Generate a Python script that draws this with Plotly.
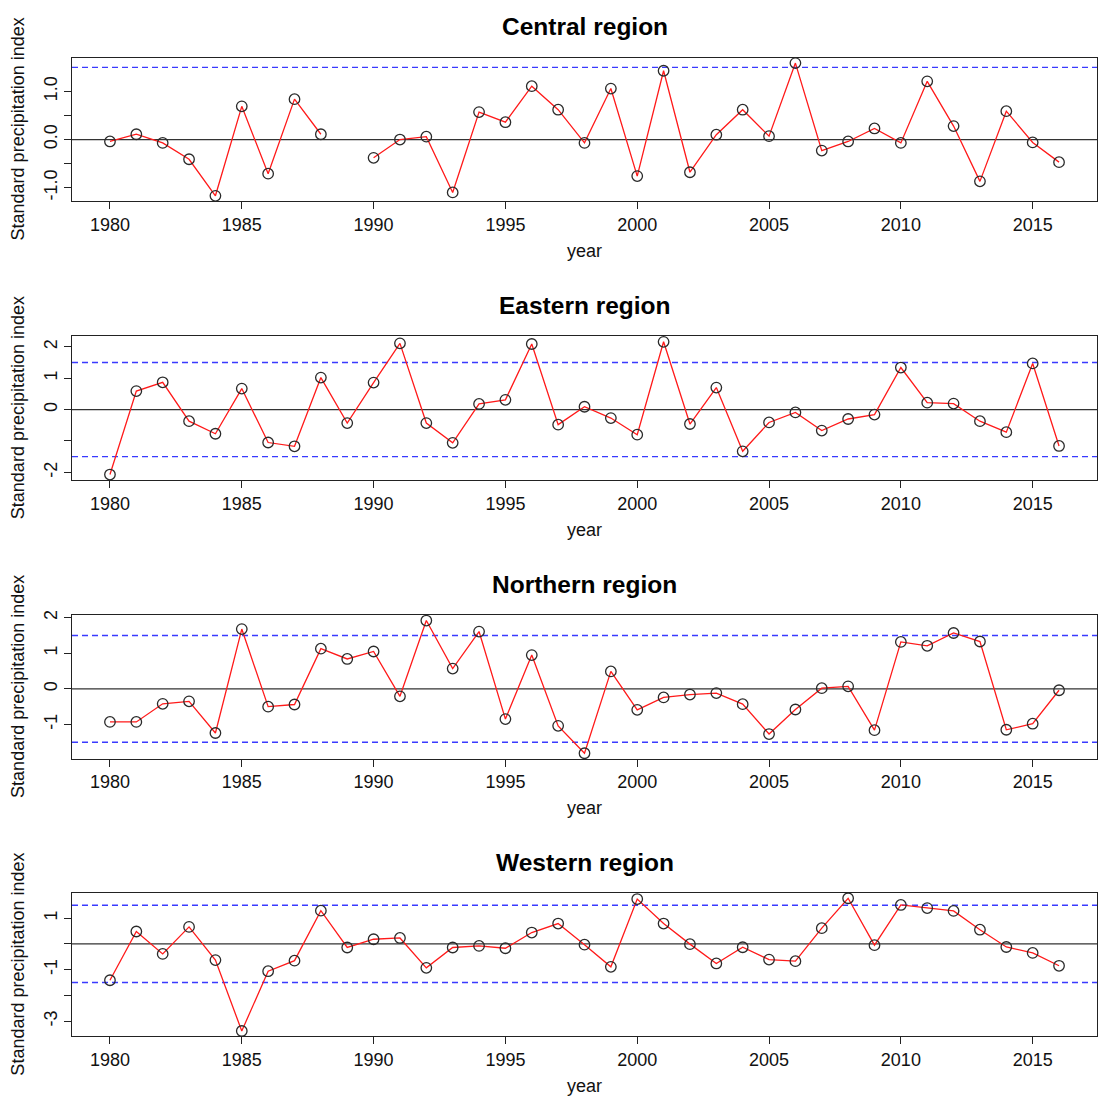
import plotly.graph_objects as go

years = list(range(1980, 2017))

central = [-0.04, 0.11, -0.07, -0.41, -1.17, 0.69, -0.71, 0.84, 0.11, None,
           -0.38, 0.00, 0.06, -1.10, 0.57, 0.36, 1.11, 0.62, -0.07, 1.06,
           -0.76, 1.43, -0.68, 0.10, 0.62, 0.07, 1.59, -0.23, -0.04, 0.23,
           -0.07, 1.21, 0.28, -0.87, 0.59, -0.06, -0.47]
eastern = [-2.07, 0.59, 0.87, -0.37, -0.77, 0.67, -1.05, -1.17, 1.02, -0.43,
           0.86, 2.11, -0.43, -1.06, 0.18, 0.31, 2.09, -0.48, 0.09, -0.27,
           -0.80, 2.16, -0.46, 0.70, -1.33, -0.41, -0.09, -0.67, -0.30, -0.16,
           1.34, 0.22, 0.19, -0.37, -0.72, 1.47, -1.16]
northern = [-0.93, -0.93, -0.42, -0.35, -1.24, 1.68, -0.50, -0.44, 1.13, 0.84,
            1.05, -0.21, 1.92, 0.57, 1.61, -0.85, 0.95, -1.04, -1.81, 0.49,
            -0.59, -0.24, -0.16, -0.12, -0.43, -1.27, -0.58, 0.02, 0.07, -1.16,
            1.32, 1.21, 1.57, 1.33, -1.15, -0.98, -0.04]
western = [-1.41, 0.48, -0.39, 0.66, -0.63, -3.38, -1.06, -0.65, 1.29, -0.14,
           0.18, 0.23, -0.93, -0.14, -0.08, -0.17, 0.44, 0.79, -0.03, -0.89,
           1.74, 0.79, -0.01, -0.76, -0.13, -0.61, -0.67, 0.61, 1.77, -0.05,
           1.51, 1.39, 1.28, 0.55, -0.12, -0.35, -0.85]

titles = ["Central region", "Eastern region", "Northern region", "Western region"]
series = [central, eastern, northern, western]
ytickvals = [[-1, -0.5, 0, 0.5, 1], [-2, -1, 0, 1, 2], [-1, 0, 1, 2], [-3, -2, -1, 0, 1]]
yticktext = [["-1.0", "", "0.0", "", "1.0"], ["-2", "", "0", "1", "2"],
             ["-1", "0", "1", "2"], ["-3", "", "-1", "", "1"]]
xtickvals = [1980, 1985, 1990, 1995, 2000, 2005, 2010, 2015]
threshold = 1.5

W, H = 1099, 1103
box_tops = [53, 333, 613, 892]
box_h = 144
x0px, x1px = 72, 1097
FONT = "Liberation Sans, Arial, sans-serif"

fig = go.Figure()
annotations = []
shapes = []

xr = [min(years) - 0.04 * (max(years) - min(years)), max(years) + 0.04 * (max(years) - min(years))]

for i, (title, vals) in enumerate(zip(titles, series)):
    n = i + 1
    xa = "x" if n == 1 else f"x{n}"
    ya = "y" if n == 1 else f"y{n}"
    top = box_tops[i]
    bot = top + box_h
    dom_y = [1 - bot / H, 1 - top / H]
    good = [v for v in vals if v is not None]
    lo, hi = min(good), max(good)
    yr = [lo - 0.04 * (hi - lo), hi + 0.04 * (hi - lo)]

    fig.add_trace(go.Scatter(
        x=years, y=vals, mode="lines+markers", xaxis=xa, yaxis=ya,
        line=dict(color="#ff1a1a", width=1.3),
        marker=dict(symbol="circle-open", size=10.5, color="#2a2a2a", line=dict(width=1.3)),
        connectgaps=False, showlegend=False, cliponaxis=False,
    ))

    axis_common = dict(showline=True, mirror=True, linecolor="#222222", linewidth=1.3,
                       showgrid=False, zeroline=False, ticks="outside", ticklen=7,
                       tickcolor="#222222", tickwidth=1.2,
                       tickfont=dict(family=FONT, size=18, color="#111111"))
    fig.update_layout(**{
        ("xaxis" if n == 1 else f"xaxis{n}"): dict(
            domain=[x0px / W, x1px / W], range=xr, anchor=ya,
            tickvals=xtickvals, **axis_common),
        ("yaxis" if n == 1 else f"yaxis{n}"): dict(
            domain=dom_y, range=yr, anchor=xa, tickvals=ytickvals[i],
            ticktext=yticktext[i], tickangle=-90, **axis_common),
    })

    # zero line
    shapes.append(dict(type="line", xref=f"{xa} domain", yref=ya, x0=0, x1=1, y0=0, y1=0,
                       line=dict(color="#333333", width=1.2), layer="below"))
    for t in (threshold, -threshold):
        if yr[0] < t < yr[1]:
            shapes.append(dict(type="line", xref=f"{xa} domain", yref=ya, x0=0, x1=1, y0=t, y1=t,
                               line=dict(color="#3a3aff", width=1.4, dash="6px,4px"), layer="below"))

    annotations.append(dict(text=f"<b>{title}</b>", xref="paper", yref="paper",
                            x=(x0px + x1px) / 2 / W, y=1 - (top - 31) / H, showarrow=False,
                            font=dict(family=FONT, size=24.5, color="#000000"),
                            xanchor="center", yanchor="middle"))
    annotations.append(dict(text="year", xref="paper", yref="paper",
                            x=(x0px + x1px) / 2 / W, y=1 - (bot + 50) / H, showarrow=False,
                            font=dict(family=FONT, size=18, color="#111111"),
                            xanchor="center", yanchor="middle"))
    annotations.append(dict(text="Standard precipitation index", xref="paper", yref="paper",
                            x=18 / W, y=1 - (top + box_h / 2) / H, showarrow=False, textangle=-90,
                            font=dict(family=FONT, size=18, color="#111111"),
                            xanchor="center", yanchor="middle"))

fig.update_layout(width=W, height=H, margin=dict(l=0, r=0, t=0, b=0),
                  paper_bgcolor="white", plot_bgcolor="white",
                  annotations=annotations, shapes=shapes)

fig.write_html("out.html")
